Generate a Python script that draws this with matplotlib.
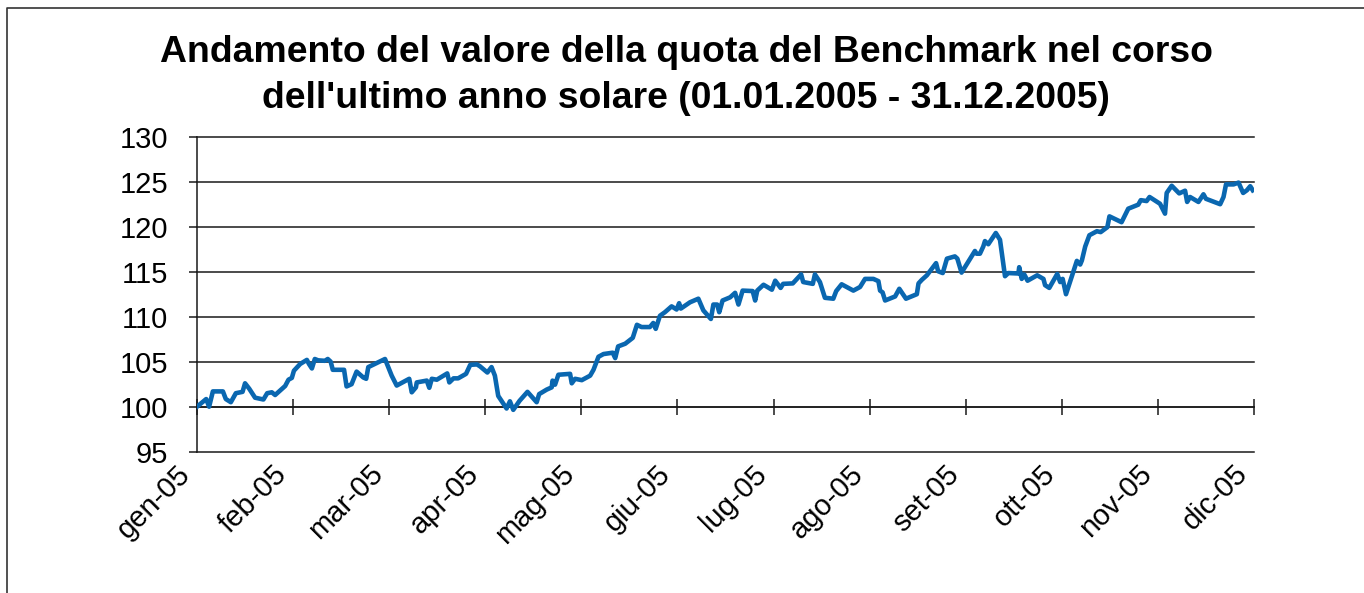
import matplotlib
matplotlib.use('Agg')
import matplotlib.pyplot as plt
from matplotlib import transforms
from matplotlib.lines import Line2D

plt.rcParams['font.family'] = ['Liberation Sans', 'DejaVu Sans']

# ---------------- data (trading-day index, benchmark value) ----------------
day_idx = [
    0, 2.2, 2.9, 3.8, 6.2, 6.9, 8.1, 9.3, 10.9, 11.5,
    12.5, 13.9, 15.9, 16.8, 17.9, 18.7, 19.9, 21.1, 21.9, 22.7,
    23.2, 24.7, 26.3, 26.8, 27.5, 28.2, 29.0, 30.6, 31.3, 32.0,
    32.5, 35.2, 35.8, 37.0, 38.2, 39.8, 40.5, 41.0, 42.1, 45.0,
    46.6, 47.8, 50.8, 51.4, 52.4, 52.6, 55.0, 55.6, 56.2, 57.4,
    58.8, 59.9, 60.4, 61.4, 62.5, 64.4, 65.4, 67.0, 67.7, 69.5,
    70.5, 71.3, 72.1, 74.1, 74.9, 75.7, 77.2, 79.1, 81.3, 81.9,
    83.7, 84.9, 85.1, 85.7, 86.5, 89.3, 89.7, 90.5, 92.1, 94.1,
    94.9, 96.1, 97.3, 99.5, 100.1, 100.8, 102.5, 104.3, 105.3, 106.4,
    108.4, 109.2, 109.8, 110.8, 112.0, 113.6, 114.8, 115.4, 115.8, 118.0,
    120.0, 121.2, 123.0, 123.6, 124.5, 125.0, 125.8, 127.6, 128.8, 129.6,
    130.6, 133.0, 133.6, 134.1, 135.6, 137.6, 138.4, 139.7, 140.3, 142.6,
    144.6, 145.1, 147.4, 147.9, 149.1, 150.3, 152.3, 153.0, 154.3, 157.1,
    158.7, 159.9, 161.9, 163.1, 163.5, 164.1, 164.7, 167.1, 168.1, 169.7,
    172.3, 172.7, 173.5, 174.7, 176.9, 177.4, 178.5, 179.5, 181.4, 182.0,
    183.0, 186.2, 186.6, 187.4, 188.2, 188.6, 189.4, 191.2, 192.2, 193.4,
    194.2, 196.6, 196.8, 197.4, 198.0, 198.8, 201.1, 202.6, 203.0, 204.0,
    205.9, 206.6, 207.2, 208.0, 210.6, 211.4, 211.8, 212.6, 213.6, 215.4,
    216.3, 217.9, 218.4, 221.3, 222.9, 225.3, 225.9, 227.3, 228.0, 230.5,
    231.7, 232.1, 233.3, 235.1, 236.5, 237.0, 237.7, 239.7, 240.9, 241.5,
    244.9, 245.7, 246.3, 248.1, 249.3, 250.4, 251.3, 252.1, 252.7,
]
values = [
    100.0, 100.85, 100.0, 101.7, 101.7, 100.85, 100.5, 101.5, 101.65, 102.6,
    102.0, 101.0, 100.8, 101.5, 101.6, 101.3, 101.8, 102.3, 103.0, 103.2,
    104.0, 104.75, 105.2, 104.75, 104.25, 105.3, 105.15, 105.1, 105.3, 105.0,
    104.1, 104.1, 102.25, 102.5, 103.9, 103.25, 103.1, 104.4, 104.65, 105.3,
    103.45, 102.35, 103.1, 101.6, 102.15, 102.7, 102.9, 102.1, 103.1, 103.0,
    103.4, 103.7, 102.7, 103.15, 103.15, 103.65, 104.65, 104.7, 104.5, 103.8,
    104.4, 103.45, 101.2, 99.8, 100.6, 99.65, 100.65, 101.65, 100.5, 101.4,
    101.9, 102.15, 102.9, 102.45, 103.55, 103.65, 102.6, 103.1, 102.95, 103.45,
    104.1, 105.55, 105.85, 106.0, 105.4, 106.7, 107.0, 107.65, 109.1, 108.85,
    108.85, 109.3, 108.65, 110.1, 110.5, 111.15, 110.8, 111.5, 110.9, 111.6,
    112.0, 110.7, 109.75, 111.35, 111.35, 110.5, 111.8, 112.15, 112.65, 111.35,
    112.9, 112.85, 111.8, 112.9, 113.55, 113.0, 114.0, 113.2, 113.65, 113.7,
    114.7, 113.85, 113.65, 114.7, 113.85, 112.1, 112.0, 112.85, 113.6, 112.9,
    113.3, 114.2, 114.2, 113.95, 112.9, 112.7, 111.8, 112.25, 113.1, 112.0,
    112.5, 113.7, 114.1, 114.6, 115.95, 115.05, 114.85, 116.45, 116.7, 116.45,
    114.9, 117.3, 117.0, 117.0, 117.8, 118.4, 118.05, 119.3, 118.55, 114.5,
    114.85, 114.8, 115.5, 114.2, 114.7, 114.0, 114.6, 114.2, 113.5, 113.2,
    114.75, 113.85, 114.2, 112.5, 116.2, 115.8, 116.25, 117.8, 119.05, 119.5,
    119.4, 119.95, 121.15, 120.5, 122.0, 122.45, 122.95, 122.85, 123.3, 122.55,
    121.45, 123.75, 124.55, 123.7, 124.0, 122.75, 123.3, 122.75, 123.6, 123.1,
    122.5, 123.3, 124.7, 124.7, 124.9, 123.75, 124.05, 124.5, 124.05,
]
month_labels = ['gen-05', 'feb-05', 'mar-05', 'apr-05', 'mag-05', 'giu-05',
                'lug-05', 'ago-05', 'set-05', 'ott-05', 'nov-05', 'dic-05']
days_per_label = 23
y_ticks = [95, 100, 105, 110, 115, 120, 125, 130]
title_lines = ["Andamento del valore della quota del Benchmark nel corso",
               "dell'ultimo anno solare (01.01.2005 - 31.12.2005)"]

# ---------------- figure ----------------
W, H = 1364, 593
fig = plt.figure(figsize=(W / 100, H / 100), dpi=100)
GRID = '#1a1a1a'
LINE = '#0a67b0'
LABEL_FS = 21

ax = fig.add_axes([197 / W, 1 - 451.7 / H, 1057 / W, 315 / H])
ax.set_xlim(0, days_per_label * (len(month_labels) - 1))
ax.set_ylim(y_ticks[0], y_ticks[-1])
ax.patch.set_alpha(0)

for v in y_ticks:
    ax.axhline(v, color=GRID, lw=1.1, zorder=1, clip_on=False)

for s in ('top', 'right'):
    ax.spines[s].set_visible(False)
ax.spines['left'].set_color(GRID)
ax.spines['left'].set_linewidth(1.1)
ax.spines['bottom'].set_position(('data', 100))
ax.spines['bottom'].set_color(GRID)
ax.spines['bottom'].set_linewidth(1.1)

ax.set_yticks(y_ticks)
ax.set_yticklabels([str(v) for v in y_ticks], fontsize=LABEL_FS)
ax.tick_params(axis='y', direction='out', length=5.8, width=1.1, color=GRID, pad=15)

tick_pos = [i * days_per_label for i in range(len(month_labels))]
ax.set_xticks(tick_pos)
ax.set_xticklabels([])
ax.tick_params(axis='x', direction='inout', length=11.5, width=1.1, color=GRID)

ax.plot(day_idx, values, color=LINE, lw=3.3, zorder=3, solid_joinstyle='round')

off = transforms.ScaledTranslation(-11 / 100, -18 / 100, fig.dpi_scale_trans)
for p, lab in zip(tick_pos, month_labels):
    ax.text(p, y_ticks[0], lab, rotation=45, rotation_mode='anchor',
            ha='right', va='center', fontsize=LABEL_FS,
            transform=ax.transData + off)

# border
fig.add_artist(Line2D([7 / W, 7 / W, 1], [0, 1 - 8 / H, 1 - 8 / H],
                      transform=fig.transFigure, color='#333333', lw=1.2))

# title, fitted to reference width
t1 = fig.text(686 / W, 1 - 62 / H, title_lines[0], ha='center', va='baseline',
              fontweight='bold', fontsize=24)
t2 = fig.text(686 / W, 1 - 108 / H, title_lines[1], ha='center', va='baseline',
              fontweight='bold', fontsize=24)
fig.canvas.draw()
r = fig.canvas.get_renderer()
w1 = t1.get_window_extent(r).width
fs = 24 * 1057 / w1
t1.set_fontsize(fs)
t2.set_fontsize(fs)

fig.savefig('out.png', dpi=100)
